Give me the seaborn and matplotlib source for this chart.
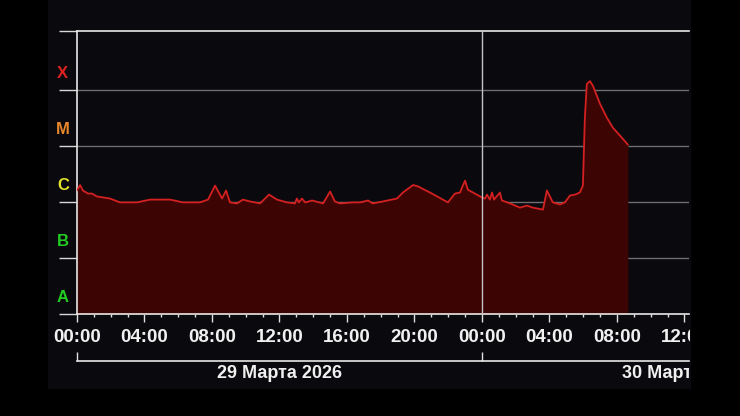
import pandas as pd
import seaborn as sns
import matplotlib
matplotlib.use('Agg')
import matplotlib.pyplot as plt
import matplotlib.dates as mdates
import matplotlib.transforms as mtransforms
from matplotlib.patches import Rectangle
from matplotlib.ticker import NullLocator

# Данные потока рентгеновского излучения (Вт/м^2)
times = [
    '2026-03-29 00:00', '2026-03-29 00:11', '2026-03-29 00:21', '2026-03-29 00:39',
    '2026-03-29 00:53', '2026-03-29 01:11', '2026-03-29 01:57', '2026-03-29 02:33',
    '2026-03-29 02:58', '2026-03-29 03:33', '2026-03-29 04:20', '2026-03-29 05:31',
    '2026-03-29 06:17', '2026-03-29 07:17', '2026-03-29 07:46', '2026-03-29 08:11',
    '2026-03-29 08:36', '2026-03-29 08:50', '2026-03-29 09:04', '2026-03-29 09:29',
    '2026-03-29 09:50', '2026-03-29 10:15', '2026-03-29 10:51', '2026-03-29 11:23',
    '2026-03-29 11:51', '2026-03-29 12:27', '2026-03-29 12:55', '2026-03-29 13:02',
    '2026-03-29 13:09', '2026-03-29 13:20', '2026-03-29 13:31', '2026-03-29 13:56',
    '2026-03-29 14:35', '2026-03-29 15:00', '2026-03-29 15:17', '2026-03-29 15:35',
    '2026-03-29 16:21', '2026-03-29 16:46', '2026-03-29 17:15', '2026-03-29 17:32',
    '2026-03-29 18:08', '2026-03-29 18:58', '2026-03-29 19:19', '2026-03-29 19:55',
    '2026-03-29 20:12', '2026-03-29 21:02', '2026-03-29 21:59', '2026-03-29 22:24',
    '2026-03-29 22:42', '2026-03-29 22:49', '2026-03-29 23:00', '2026-03-29 23:10',
    '2026-03-29 23:35', '2026-03-30 00:00', '2026-03-30 00:11', '2026-03-30 00:18',
    '2026-03-30 00:28', '2026-03-30 00:36', '2026-03-30 00:43', '2026-03-30 01:04',
    '2026-03-30 01:11', '2026-03-30 01:40', '2026-03-30 02:15', '2026-03-30 02:40',
    '2026-03-30 03:01', '2026-03-30 03:37', '2026-03-30 03:51', '2026-03-30 04:12',
    '2026-03-30 04:37', '2026-03-30 04:55', '2026-03-30 05:13', '2026-03-30 05:31',
    '2026-03-30 05:48', '2026-03-30 05:59', '2026-03-30 06:06', '2026-03-30 06:13',
    '2026-03-30 06:24', '2026-03-30 06:35', '2026-03-30 07:00', '2026-03-30 07:24',
    '2026-03-30 07:46', '2026-03-30 08:18', '2026-03-30 08:39',
]
flux = [
    1.6e-6, 2.0e-6, 1.6e-6, 1.41e-6,
    1.41e-6, 1.25e-6, 1.15e-6, 9.8e-7,
    9.8e-7, 9.8e-7, 1.1e-6, 1.1e-6,
    9.8e-7, 9.8e-7, 1.1e-6, 1.95e-6,
    1.15e-6, 1.6e-6, 9.8e-7, 9.4e-7,
    1.1e-6, 1.02e-6, 9.4e-7, 1.35e-6,
    1.1e-6, 9.8e-7, 9.4e-7, 1.15e-6,
    9.8e-7, 1.15e-6, 9.8e-7, 1.06e-6,
    9.4e-7, 1.53e-6, 1.02e-6, 9.4e-7,
    9.8e-7, 9.8e-7, 1.06e-6, 9.4e-7,
    1.02e-6, 1.15e-6, 1.47e-6, 2.0e-6,
    1.9e-6, 1.41e-6, 9.8e-7, 1.41e-6,
    1.47e-6, 1.8e-6, 2.4e-6, 1.65e-6,
    1.41e-6, 1.2e-6, 1.15e-6, 1.35e-6,
    1.1e-6, 1.47e-6, 1.1e-6, 1.47e-6,
    1.06e-6, 9.4e-7, 7.9e-7, 8.6e-7,
    7.9e-7, 7.3e-7, 1.6e-6, 9.8e-7,
    9.0e-7, 9.8e-7, 1.3e-6, 1.35e-6,
    1.47e-6, 1.95e-6, 3.2e-5, 1.27e-4,
    1.43e-4, 1.17e-4, 5.6e-5, 3.2e-5,
    2.1e-5, 1.39e-5, 1.05e-5,
]

flare_classes = ['A', 'B', 'C', 'M', 'X']
class_colors = ['#22cc22', '#22cc22', '#e4e42c', '#e8882a', '#dd2222']
day_labels = ['29 Марта 2026', '30 Марта 2026']

df = pd.DataFrame({'time': pd.to_datetime(times), 'flux': flux})
t0 = pd.Timestamp('2026-03-29 00:00')
t_end = t0 + pd.Timedelta(hours=36.27)

sns.set_style('dark')
plt.rcParams['font.family'] = ['Liberation Sans', 'DejaVu Sans']
plt.rcParams['font.weight'] = 'bold'

fig = plt.figure(figsize=(7.4, 4.16), dpi=100, facecolor='black')
# тёмная панель за графиком
fig.add_artist(Rectangle((0.0649, 0.0673), 0.8676, 0.9327, transform=fig.transFigure,
                         color='#0a090d', zorder=-10))

ax = fig.add_axes([0.10405, 0.2452, 0.827, 0.6803])
ax.set_facecolor('none')

# сетка по классам вспышек
for k in range(-7, -3):
    ax.axhline(10.0 ** k, color='#6e6e6e', lw=1, zorder=1)

ax.fill_between(df['time'], df['flux'], 1e-9, color='#3d0404', lw=0, zorder=2)
sns.lineplot(data=df, x='time', y='flux', ax=ax, color='#d42020', lw=1.3, zorder=3)
ax.axvline(t0 + pd.Timedelta(hours=24), color='#c4c4c4', lw=1, zorder=4)

ax.set_yscale('log')
y_top = 10 ** -2.95
ax.set_ylim(1e-8, y_top)
ax.set_xlim(t0, t_end)
ax.set_xlabel('')
ax.set_ylabel('')

ax.yaxis.set_minor_locator(NullLocator())
ax.set_yticks([1e-8, 1e-7, 1e-6, 1e-5, 1e-4, y_top])
ax.set_yticklabels([])
ax.tick_params(axis='y', which='major', length=13, width=1, color='#d8d8d8', left=True)

ax.xaxis.set_major_locator(mdates.HourLocator(byhour=range(0, 24, 4)))
ax.xaxis.set_major_formatter(mdates.DateFormatter('%H:%M'))
ax.xaxis.set_minor_locator(mdates.HourLocator())
ax.tick_params(axis='x', which='major', length=6, width=1, color='#e0e0e0', bottom=True,
               labelsize=13.5, labelcolor='#f0f0f0', pad=5)
ax.tick_params(axis='x', which='minor', length=2.5, width=1, color='#e0e0e0', bottom=True)

# подписи обрезаются по правому краю панели
clip_box = mtransforms.TransformedBbox(
    mtransforms.Bbox([[0, 0], [690 / 740, 1]]), fig.transFigure)
for tick in ax.xaxis.get_major_ticks():
    tick.label1.set_fontweight('bold')
    tick.label1.set_clip_on(True)
    tick.label1.set_clip_box(clip_box)

for side in ['left', 'bottom', 'top']:
    ax.spines[side].set_visible(True)
    ax.spines[side].set_color('#e8e8e8')
    ax.spines[side].set_linewidth(1.2)
ax.spines['right'].set_visible(False)
ax.grid(False)

trans = mtransforms.blended_transform_factory(ax.transAxes, ax.transData)
for i, (cls, col) in enumerate(zip(flare_classes, class_colors)):
    ax.text(-0.023, 10.0 ** (-8 + i + 0.29), cls, transform=trans, ha='center', va='center',
            color=col, fontsize=12, fontweight='bold')

# ось дат
ax2 = fig.add_axes([0.10405, 0.0745, 0.827, 0.0577])
ax2.set_facecolor('none')
ax2.set_xlim(mdates.date2num(t0), mdates.date2num(t_end))
ax2.set_ylim(0, 1)
for side in ['left', 'bottom', 'right']:
    ax2.spines[side].set_visible(False)
ax2.spines['top'].set_visible(True)
ax2.spines['top'].set_color('#e8e8e8')
ax2.spines['top'].set_linewidth(1.2)
ax2.xaxis.tick_top()
ax2.set_xticks([mdates.date2num(t0), mdates.date2num(t0 + pd.Timedelta(hours=24))])
ax2.set_xticklabels([])
ax2.tick_params(axis='x', length=6.5, width=1, color='#e0e0e0')
ax2.set_yticks([])
ax2.grid(False)
for d, label in enumerate(day_labels):
    noon = mdates.date2num(t0 + pd.Timedelta(hours=24 * d + 12))
    ax2.text(noon, 0.5, label, ha='center', va='center', color='#f0f0f0',
             fontsize=13, fontweight='bold', clip_on=True)

fig.savefig('out.png', dpi=100, facecolor='black')
